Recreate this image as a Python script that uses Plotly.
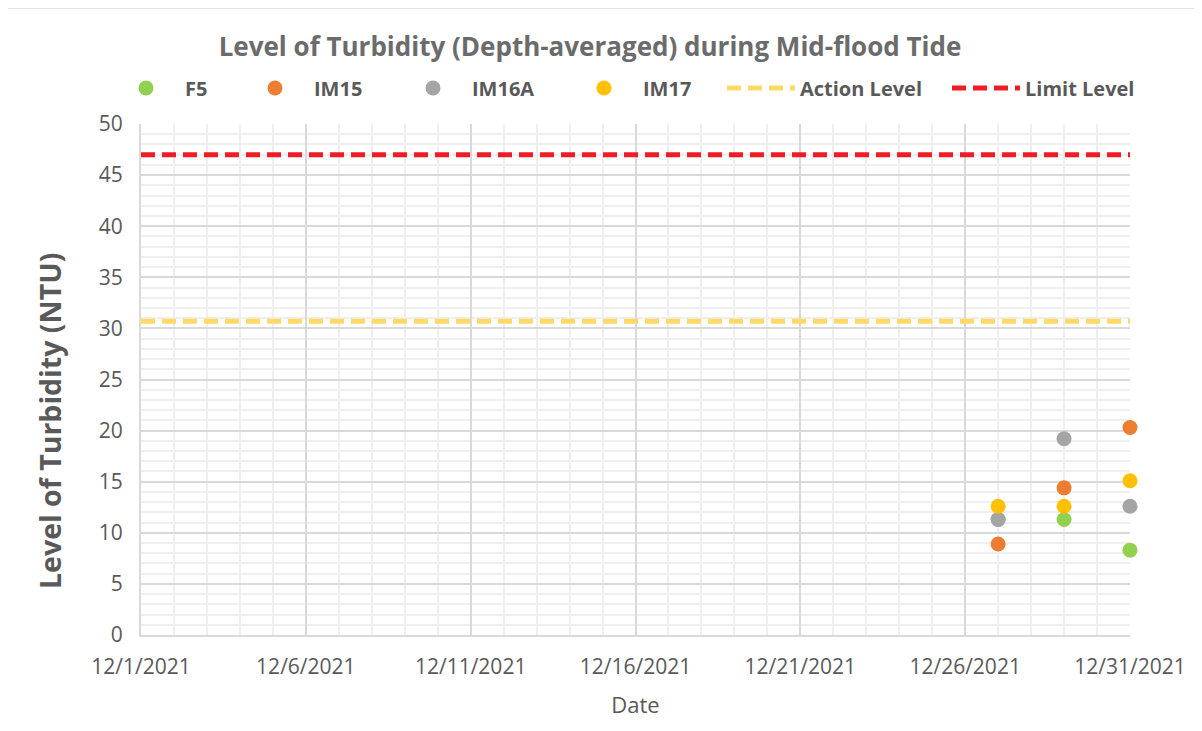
import plotly.graph_objects as go

# sampling dates and depth-averaged turbidity (NTU)
dates = ["2021-12-27", "2021-12-29", "2021-12-31"]
f5 = [11.3, 11.3, 8.3]
im15 = [8.9, 14.4, 20.3]
im16a = [11.3, 19.2, 12.6]
im17 = [12.6, 12.6, 15.1]

# criteria lines across the month
line_dates = ["2021-12-01", "2021-12-31"]
action_level = [30.7, 30.7]
limit_level = [47.0, 47.0]

FONT = "Open Sans"
GREY = "#595959"

W, H = 1202, 731
OFF = 8  # page body margin, figure is drawn 8px in from the window edge

# plot area in figure pixels (page pixels minus the body margin)
L, R, T, B = 141 - OFF, 1130 - OFF, 124 - OFF, 635 - OFF
PW, PH = R - L, B - T


def px_x(x):
    return (x - OFF - L) / PW


def px_y(y):
    return (B - (y - OFF)) / PH


fig = go.Figure()

series = [
    ("F5", f5, "#92D050", "legend"),
    ("IM15", im15, "#ED7D31", "legend2"),
    ("IM16A", im16a, "#A5A5A5", "legend3"),
    ("IM17", im17, "#FFC000", "legend4"),
]
for name, vals, color, leg in series:
    fig.add_trace(
        go.Scatter(
            x=dates,
            y=vals,
            name=name,
            mode="markers",
            marker=dict(size=15, color=color),
            cliponaxis=False,
            legend=leg,
        )
    )

fig.add_trace(
    go.Scatter(
        x=line_dates,
        y=action_level,
        name="Action Level",
        mode="lines",
        line=dict(color="#FFD966", width=5, dash="14px,7px"),
        legend="legend5",
    )
)
fig.add_trace(
    go.Scatter(
        x=line_dates,
        y=limit_level,
        name="Limit Level",
        mode="lines",
        line=dict(color="#EE1C25", width=5, dash="14px,7px"),
        legend="legend6",
    )
)

# legends placed one by one like the Excel legend row
leg_font = dict(family=FONT, size=20, color=GREY, weight="bold")
starts = [107, 236, 394, 565, 722, 947]
legs = {}
for i, s in enumerate(starts):
    key = "legend" if i == 0 else f"legend{i + 1}"
    legs[key] = dict(
        x=px_x(s),
        y=px_y(88),
        xanchor="left",
        yanchor="middle",
        orientation="h",
        itemwidth=68,
        font=leg_font,
        bgcolor="rgba(0,0,0,0)",
    )
fig.update_layout(**legs)

fig.update_xaxes(
    type="date",
    range=["2021-12-01", "2021-12-31"],
    tick0="2021-12-01",
    dtick=5 * 86400000,
    tickformat="%-m/%-d/%Y",
    tickfont=dict(family=FONT, size=21, color=GREY),
    ticks="",
    ticklabelstandoff=12,
    showgrid=True,
    gridcolor="#D9D9D9",
    gridwidth=1.5,
    minor=dict(dtick=86400000, showgrid=True, gridcolor="#EFEFEF", gridwidth=1.5),
    showline=True,
    linecolor="#D9D9D9",
    linewidth=2,
    zeroline=False,
    title=dict(text="Date", font=dict(family=FONT, size=22, color=GREY), standoff=18),
)
fig.update_yaxes(
    range=[0, 50],
    dtick=5,
    tickfont=dict(family=FONT, size=21, color=GREY),
    ticks="",
    ticklabelstandoff=12,
    showgrid=True,
    gridcolor="#D9D9D9",
    gridwidth=1.5,
    minor=dict(dtick=1, showgrid=True, gridcolor="#EFEFEF", gridwidth=1.5),
    showline=True,
    linecolor="#D9D9D9",
    linewidth=2,
    zeroline=False,
)

# y-axis title sits a little below the plot centre, as in the Excel chart
fig.add_annotation(
    text="Level of Turbidity (NTU)",
    xref="paper",
    yref="paper",
    x=px_x(50),
    y=px_y(421),
    xanchor="center",
    yanchor="middle",
    textangle=-90,
    showarrow=False,
    font=dict(family=FONT, size=28.5, color=GREY, weight="bold"),
)

# chart-area border
fig.add_shape(
    type="rect",
    xref="paper",
    yref="paper",
    x0=px_x(6),
    x1=px_x(1196),
    y0=px_y(745),
    y1=px_y(8),
    line=dict(color="#D9D9D9", width=1.5),
    layer="below",
)

fig.update_layout(
    width=W,
    height=H,
    margin=dict(l=L, r=W - R, t=T, b=H - B, autoexpand=False),
    paper_bgcolor="white",
    plot_bgcolor="white",
    title=dict(
        text="Level of Turbidity (Depth-averaged) during Mid-flood Tide",
        font=dict(family=FONT, size=26, color="#6B6B6B", weight="bold"),
        x=(590 - OFF) / W,
        xanchor="center",
        xref="container",
        y=1 - (47 - OFF) / H,
        yanchor="middle",
        yref="container",
    ),
    showlegend=True,
)

fig.write_html("out.html")
